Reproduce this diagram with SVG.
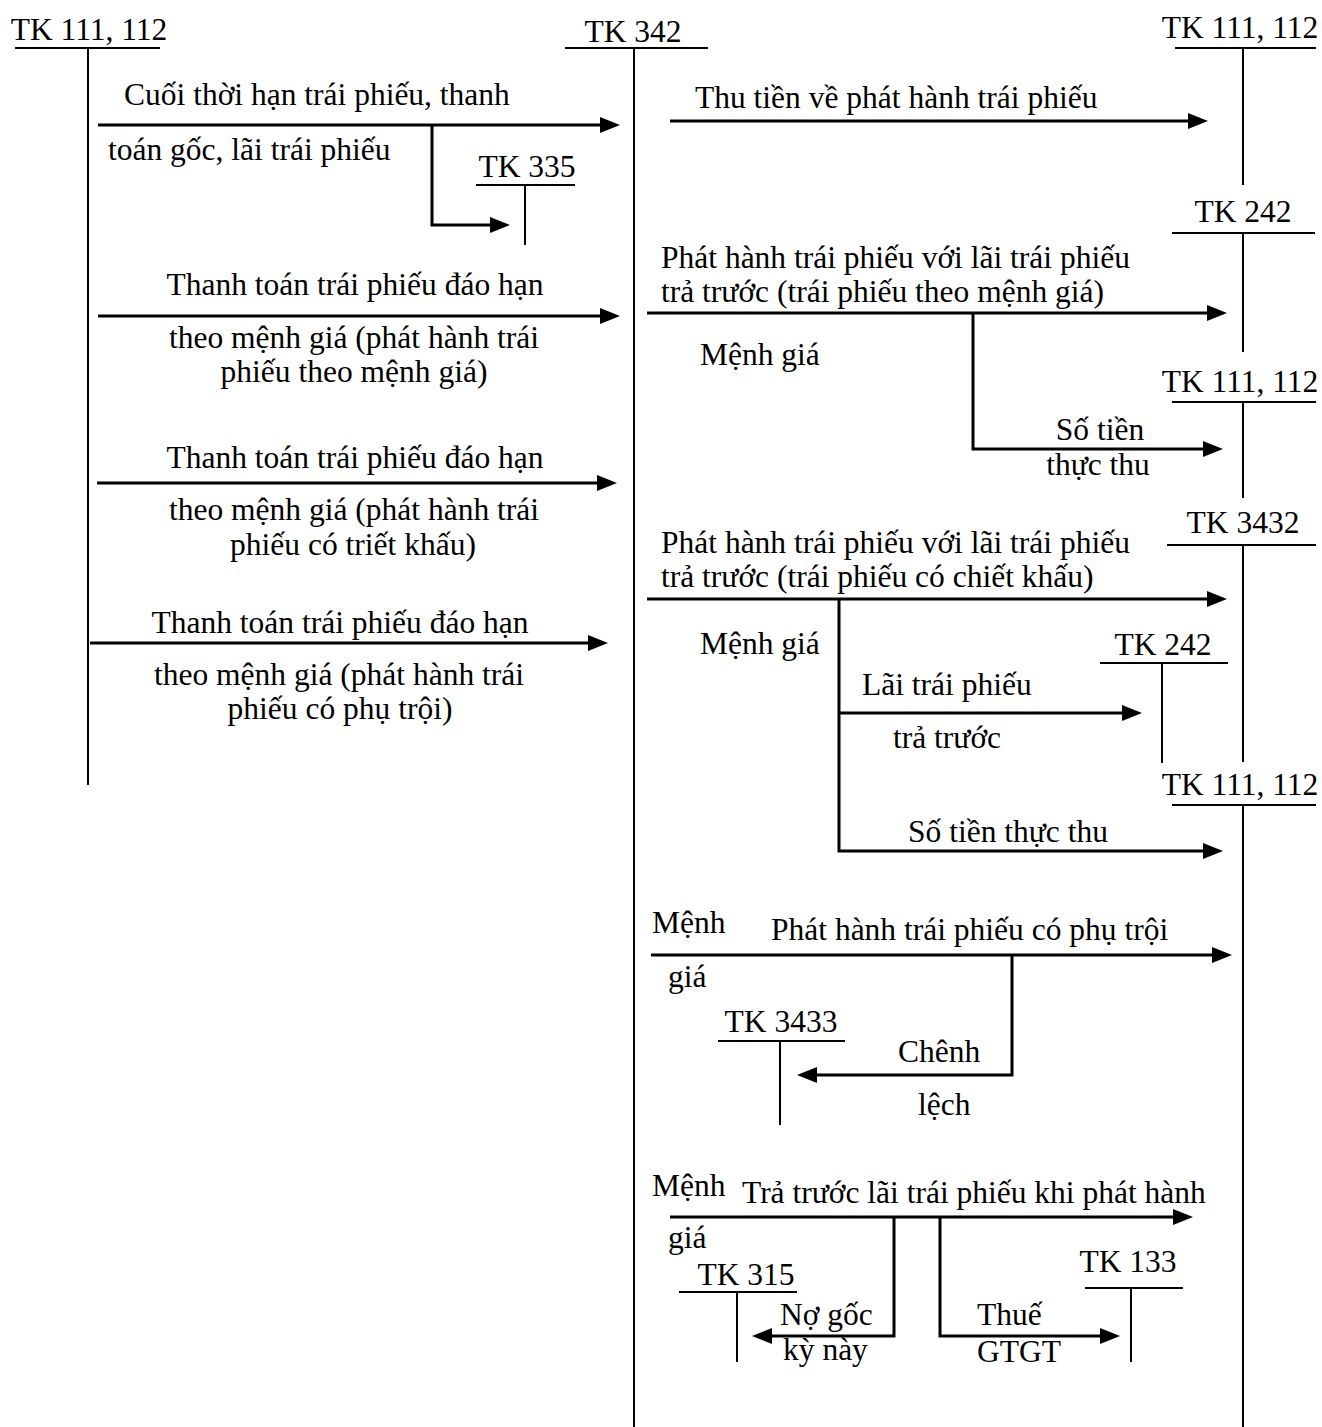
<svg xmlns="http://www.w3.org/2000/svg" width="1322" height="1427" viewBox="0 0 1322 1427">
<style>
text{font-family:"Liberation Serif","Times New Roman",serif;font-size:31.5px;fill:#000}
.c{text-anchor:middle}
.acc{stroke:#000;stroke-width:2;fill:none}
.arr{stroke:#000;stroke-width:3;fill:none;marker-end:url(#ah)}
</style>
<defs>
<marker id="ah" markerUnits="userSpaceOnUse" markerWidth="22" markerHeight="18" refX="2" refY="8" orient="auto">
<path d="M0,0 L20,8 L0,16 z" fill="#000"/>
</marker>
</defs>
<rect width="1322" height="1427" fill="#fff"/>

<g id="tk111-left">
<text x="89" y="40" class="c">TK 111, 112</text>
<path class="acc" d="M15,48 H160 M88,48 V785"/>
</g>
<g id="tk342">
<text x="633" y="42" class="c">TK 342</text>
<path class="acc" d="M565,48 H708 M634,48 V1427"/>
</g>
<g id="tk111-top">
<text x="1240" y="38" class="c">TK 111, 112</text>
<path class="acc" d="M1175,48 H1316 M1243,48 V185"/>
</g>
<g id="tk335">
<text x="527" y="177" class="c">TK 335</text>
<path class="acc" d="M476,185 H575 M525,185 V245"/>
</g>
<g id="tk242-top">
<text x="1243" y="222" class="c">TK 242</text>
<path class="acc" d="M1172,233 H1315 M1243,233 V352"/>
</g>
<g id="tk111-mid">
<text x="1240" y="392" class="c">TK 111, 112</text>
<path class="acc" d="M1172,402 H1316 M1243,402 V498"/>
</g>
<g id="tk3432">
<text x="1243" y="533" class="c">TK 3432</text>
<path class="acc" d="M1167,545 H1316 M1243,545 V762"/>
</g>
<g id="tk242-mid">
<text x="1163" y="655" class="c">TK 242</text>
<path class="acc" d="M1100,663 H1228 M1162,663 V763"/>
</g>
<g id="tk111-low">
<text x="1240" y="795" class="c">TK 111, 112</text>
<path class="acc" d="M1172,805 H1316 M1243,805 V1427"/>
</g>
<g id="tk3433">
<text x="781" y="1032" class="c">TK 3433</text>
<path class="acc" d="M718,1041 H845 M780,1041 V1125"/>
</g>
<g id="tk315">
<text x="746" y="1285" class="c">TK 315</text>
<path class="acc" d="M679,1292 H797 M737,1292 V1362"/>
</g>
<g id="tk133">
<text x="1128" y="1272" class="c">TK 133</text>
<path class="acc" d="M1085,1288 H1183 M1131,1288 V1362"/>
</g>

<g id="connectors">
<path class="arr" d="M98,125 H602"/>
<path class="arr" d="M432,125 V225 H492"/>
<path class="arr" d="M670,121 H1190"/>
<path class="arr" d="M98,316 H602"/>
<path class="arr" d="M647,313 H1209"/>
<path class="arr" d="M973,313 V449 H1205"/>
<path class="arr" d="M97,483 H599"/>
<path class="arr" d="M647,599 H1209"/>
<path class="arr" d="M839,599 V851 H1205"/>
<path class="arr" d="M839,713 H1124"/>
<path class="arr" d="M90,643 H590"/>
<path class="arr" d="M651,955 H1214"/>
<path class="arr" d="M1012,955 V1075 H815"/>
<path class="arr" d="M670,1217 H1175"/>
<path class="arr" d="M894,1217 V1336 H770"/>
<path class="arr" d="M940,1217 V1336 H1102"/>
</g>

<g id="labels">
<text x="124" y="105">Cuối thời hạn trái phiếu, thanh</text>
<text x="108" y="160">toán gốc, lãi trái phiếu</text>
<text x="695" y="108">Thu tiền về phát hành trái phiếu</text>
<text x="355" y="295" class="c">Thanh toán trái phiếu đáo hạn</text>
<text x="354" y="348" class="c">theo mệnh giá (phát hành trái</text>
<text x="354" y="382" class="c">phiếu theo mệnh giá)</text>
<text x="661" y="268">Phát hành trái phiếu với lãi trái phiếu</text>
<text x="661" y="302">trả trước (trái phiếu theo mệnh giá)</text>
<text x="700" y="365">Mệnh giá</text>
<text x="1100" y="440" class="c">Số tiền</text>
<text x="1098" y="475" class="c">thực thu</text>
<text x="355" y="468" class="c">Thanh toán trái phiếu đáo hạn</text>
<text x="354" y="520" class="c">theo mệnh giá (phát hành trái</text>
<text x="353" y="555" class="c">phiếu có triết khấu)</text>
<text x="661" y="553">Phát hành trái phiếu với lãi trái phiếu</text>
<text x="661" y="587">trả trước (trái phiếu có chiết khấu)</text>
<text x="700" y="654">Mệnh giá</text>
<text x="862" y="695">Lãi trái phiếu</text>
<text x="893" y="748">trả trước</text>
<text x="908" y="842">Số tiền thực thu</text>
<text x="340" y="633" class="c">Thanh toán trái phiếu đáo hạn</text>
<text x="339" y="685" class="c">theo mệnh giá (phát hành trái</text>
<text x="340" y="719" class="c">phiếu có phụ trội)</text>
<text x="652" y="933">Mệnh</text>
<text x="771" y="940">Phát hành trái phiếu có phụ trội</text>
<text x="668" y="987">giá</text>
<text x="898" y="1062">Chênh</text>
<text x="918" y="1115">lệch</text>
<text x="652" y="1196">Mệnh</text>
<text x="742" y="1203">Trả trước lãi trái phiếu khi phát hành</text>
<text x="668" y="1248">giá</text>
<text x="780" y="1325">Nợ gốc</text>
<text x="783" y="1360">kỳ này</text>
<text x="977" y="1325">Thuế</text>
<text x="977" y="1362">GTGT</text>
</g>
</svg>
